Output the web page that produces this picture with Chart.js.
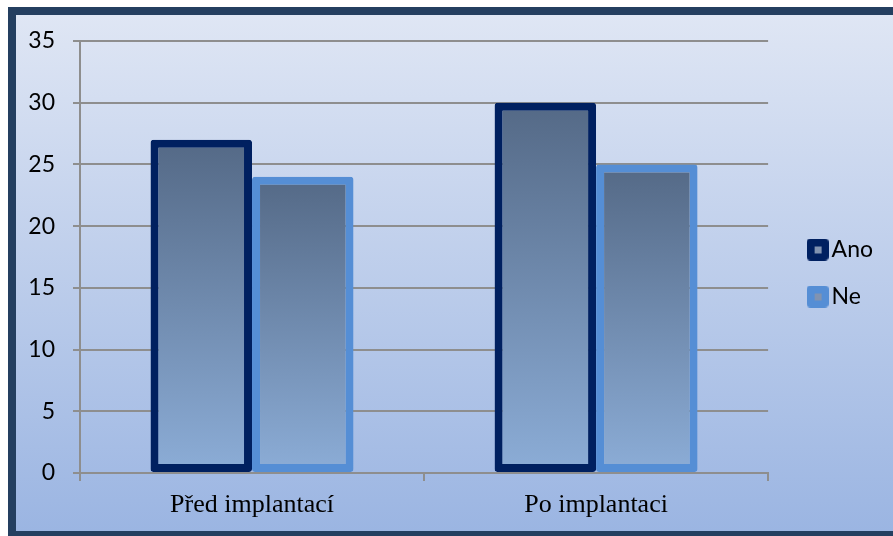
<!DOCTYPE html>
<html>
<head>
<meta charset="utf-8">
<script src="https://cdn.jsdelivr.net/npm/chart.js@4.4.1/dist/chart.umd.min.js"></script>
<style>
  html, body { margin: 0; padding: 0; background: #fff; overflow: hidden; }
  #frame {
    position: absolute;
    left: 8px;
    top: 7px;
    width: 900px;
    height: 516px;
    border: 8px solid #243f60;
    border-right: 0;
    background: linear-gradient(#dfe6f4, #9bb5e2);
  }
  #chart { position: absolute; left: 0; top: 0; }
</style>
</head>
<body>
<div id="frame">
  <canvas id="chart" width="867" height="516"></canvas>
</div>
<script>
const categories = ['Před implantací', 'Po implantaci'];
const seriesNames = ['Ano', 'Ne'];
const anoValues = [27, 30];
const neValues = [24, 25];

const borderColors = ['#002060', '#558ed5'];
const fillTop = 'rgb(84,105,134)';
const fillBottom = 'rgb(140,173,215)';
const gridColor = '#8e8e8e';

function barFill(context) {
    const chart = context.chart;
    const area = chart.chartArea;
    if (!area || context.raw === undefined) {
        return fillBottom;
    }
    const top = chart.scales.y.getPixelForValue(context.raw);
    const g = chart.ctx.createLinearGradient(0, top, 0, area.bottom);
    g.addColorStop(0, fillTop);
    g.addColorStop(1, fillBottom);
    return g;
}

// small legend marks like the office ones: rounded square with a grey dot
function makeMark(color) {
    const c = document.createElement('canvas');
    c.width = 22;
    c.height = 22;
    const ctx = c.getContext('2d');
    ctx.fillStyle = color;
    ctx.beginPath();
    ctx.roundRect(0, 0, 22, 22, 4);
    ctx.fill();
    ctx.fillStyle = '#8193b0';
    ctx.fillRect(8, 8, 7, 7);
    return c;
}
const legendMarks = borderColors.map(makeMark);

const datasets = [anoValues, neValues].map((values, i) => ({
    label: seriesNames[i],
    data: values,
    backgroundColor: barFill,
    borderColor: borderColors[i],
    borderWidth: 8,
    borderSkipped: false,
    borderRadius: 3,
    categoryPercentage: 0.59,
    barPercentage: 1.0
}));

new Chart(document.getElementById('chart'), {
    type: 'bar',
    data: {
        labels: categories,
        datasets: datasets
    },
    options: {
        responsive: false,
        animation: false,
        plugins: {
            tooltip: { enabled: false },
            legend: {
                position: 'right',
                align: 'center',
                labels: {
                    usePointStyle: true,
                    pointStyleWidth: 5,
                    padding: 24,
                    color: '#000',
                    font: { family: 'Lato', size: 23 },
                    generateLabels: chart => seriesNames.map((name, i) => ({
                        text: name,
                        datasetIndex: i,
                        pointStyle: legendMarks[i],
                        fillStyle: borderColors[i],
                        strokeStyle: borderColors[i],
                        lineWidth: 0,
                        hidden: false,
                        fontColor: '#000'
                    }))
                }
            }
        },
        scales: {
            x: {
                grid: {
                    offset: true,
                    drawOnChartArea: false,
                    drawTicks: true,
                    tickLength: 8,
                    color: gridColor,
                    lineWidth: 2
                },
                border: { color: gridColor, width: 2 },
                ticks: {
                    color: '#000',
                    padding: 9,
                    font: { family: 'Liberation Serif', size: 26 }
                },
                afterFit: s => { s.height = 58; }
            },
            xTop: {
                position: 'top',
                display: true,
                ticks: { display: false },
                grid: { display: false },
                border: { display: false },
                afterFit: s => { s.height = 26; }
            },
            y: {
                min: 0,
                max: 35,
                ticks: {
                    stepSize: 5,
                    color: '#000',
                    padding: 18,
                    // small lineHeight keeps the label overhang from pushing the plot down
                    font: { family: 'Lato', size: 23, lineHeight: 0.5 }
                },
                grid: { color: gridColor, lineWidth: 2, tickLength: 7 },
                border: { color: gridColor, width: 2 },
                afterFit: s => { s.width = 64; }
            },
            yRight: {
                position: 'right',
                display: true,
                ticks: { display: false },
                grid: { display: false },
                border: { display: false },
                afterFit: s => { s.width = 23; }
            }
        }
    }
});
</script>
</body>
</html>
